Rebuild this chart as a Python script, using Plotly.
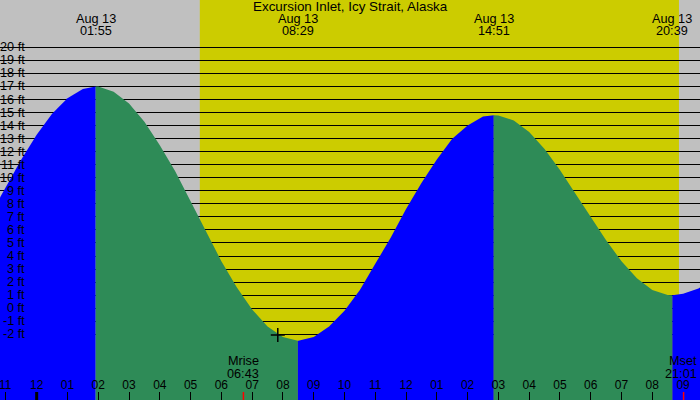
import plotly.graph_objects as go

# Tide heights (ft), Aug 12 evening to Aug 13 night
tide_times = [
    "2024-08-12 22:30", "2024-08-12 23:00", "2024-08-12 23:30",
    "2024-08-13 00:00", "2024-08-13 00:30", "2024-08-13 01:00", "2024-08-13 01:30",
    "2024-08-13 01:55", "2024-08-13 02:00", "2024-08-13 02:30", "2024-08-13 03:00",
    "2024-08-13 03:30", "2024-08-13 04:00", "2024-08-13 04:30", "2024-08-13 05:00",
    "2024-08-13 05:30", "2024-08-13 06:00", "2024-08-13 06:30", "2024-08-13 07:00",
    "2024-08-13 07:30", "2024-08-13 08:00", "2024-08-13 08:29", "2024-08-13 08:30",
    "2024-08-13 09:00", "2024-08-13 09:30", "2024-08-13 10:00", "2024-08-13 10:30",
    "2024-08-13 11:00", "2024-08-13 11:30", "2024-08-13 12:00", "2024-08-13 12:30",
    "2024-08-13 13:00", "2024-08-13 13:30", "2024-08-13 14:00", "2024-08-13 14:30",
    "2024-08-13 14:51", "2024-08-13 15:00", "2024-08-13 15:30", "2024-08-13 16:00",
    "2024-08-13 16:30", "2024-08-13 17:00", "2024-08-13 17:30", "2024-08-13 18:00",
    "2024-08-13 18:30", "2024-08-13 19:00", "2024-08-13 19:30", "2024-08-13 20:00",
    "2024-08-13 20:30", "2024-08-13 20:39", "2024-08-13 21:00", "2024-08-13 21:30",
    "2024-08-13 22:00",
]
tide_ft = [
    7.2, 9.3, 11.4,
    13.3, 14.9, 16.1, 16.8,
    17.0, 16.99, 16.6, 15.7,
    14.3, 12.5, 10.5, 8.2,
    5.9, 3.6, 1.6, -0.1,
    -1.4, -2.2, -2.5, -2.5,
    -2.2, -1.4, -0.2, 1.4,
    3.4, 5.4, 7.6, 9.6,
    11.4, 13.0, 14.0, 14.7,
    14.8, 14.78, 14.4, 13.5,
    12.2, 10.6, 8.8, 7.0,
    5.2, 3.6, 2.3, 1.4,
    1.02, 1.0, 1.1, 1.5,
    2.3,
]

# high / low tides labelled at the top
extreme_times = ["2024-08-13 01:55", "2024-08-13 08:29", "2024-08-13 14:51", "2024-08-13 20:39"]
extreme_labels = ["01:55", "08:29", "14:51", "20:39"]
extreme_date = "Aug 13"

sunrise = "2024-08-13 05:18"
sunset = "2024-08-13 20:52"
moonrise = "2024-08-13 06:43"
moonset = "2024-08-13 21:01"
now_time = "2024-08-13 07:50"
now_ft = -2.05

x_range = ["2024-08-12 22:48:30", "2024-08-13 21:33"]
y_range = [-7.04, 23.63]
ft_ticks = list(range(-2, 21))
first_hour = "2024-08-12 23:00"  # its label hangs off the left edge

FONT = dict(family="Liberation Sans, Arial, sans-serif", size=12, color="black")
GREY = "#C0C0C0"
DAY = "#CCCC00"
RISE = "#0000FF"
FALL = "#2E8B57"

fig = go.Figure()

# split the curve at each high/low and fill it down to the bottom
cuts = [0] + [tide_times.index(t) for t in extreme_times] + [len(tide_times) - 1]
for a, b in zip(cuts[:-1], cuts[1:]):
    xs = tide_times[a:b + 1]
    ys = tide_ft[a:b + 1]
    color = RISE if ys[-1] > ys[0] else FALL
    fig.add_trace(go.Scatter(
        x=xs + [xs[-1], xs[0]], y=ys + [y_range[0], y_range[0]],
        fill="toself", fillcolor=color, mode="lines", line=dict(width=0),
        hoverinfo="skip", showlegend=False))

fig.add_trace(go.Scatter(
    x=[now_time], y=[now_ft], mode="markers",
    marker=dict(symbol="cross-thin", size=10, line=dict(width=1.5, color="black")),
    hoverinfo="skip", showlegend=False))

# daylight band, and grey covers where there is no grid
fig.add_shape(type="rect", xref="x", yref="paper", x0=sunrise, x1=sunset, y0=0, y1=1,
              fillcolor=DAY, line_width=0, layer="below")
fig.add_shape(type="rect", xref="x", yref="paper", x0=sunset, x1=x_range[1], y0=0, y1=1,
              fillcolor=GREY, line_width=0, layer="between")
fig.add_shape(type="rect", xref="paper", yref="paper", x0=0, x1=29 / 700, y0=0, y1=1,
              fillcolor=GREY, line_width=0, layer="between")

# midnight tick is heavier, moon ticks in red
fig.add_shape(type="line", xref="x", yref="paper", x0="2024-08-13 00:00", x1="2024-08-13 00:00",
              y0=0, y1=0.02, line=dict(color="black", width=3))
for t in [moonrise, moonset]:
    fig.add_shape(type="line", xref="x", yref="paper", x0=t, x1=t, y0=0, y1=0.02,
                  line=dict(color="red", width=1.5))

TOP = dict(size=12.7)
annotations = [dict(text="Excursion Inlet, Icy Strait, Alaska", xref="paper", yref="paper",
                    x=0.5, y=1 - 7 / 400, yanchor="middle", showarrow=False,
                    font=dict(size=13.4))]
for t, lab in zip(extreme_times, extreme_labels):
    annotations.append(dict(text=extreme_date, x=t, yref="paper", y=1 - 19 / 400,
                            yanchor="middle", showarrow=False, font=TOP))
    annotations.append(dict(text=lab, x=t, yref="paper", y=1 - 31 / 400,
                            yanchor="middle", showarrow=False, font=TOP))
annotations.append(dict(text="Mrise", x=moonrise, yref="paper", y=1 - 361 / 400,
                        yanchor="middle", showarrow=False, font=TOP))
annotations.append(dict(text="06:43", x=moonrise, yref="paper", y=1 - 374 / 400,
                        yanchor="middle", showarrow=False, font=TOP))
annotations.append(dict(text="Mset", xref="paper", x=0.998, xanchor="right", yref="paper",
                        y=1 - 361 / 400, yanchor="middle", showarrow=False, font=TOP))
annotations.append(dict(text="21:01", xref="paper", x=0.998, xanchor="right", yref="paper",
                        y=1 - 374 / 400, yanchor="middle", showarrow=False, font=TOP))
annotations.append(dict(text="11", x=first_hour, yref="paper", y=1 - 385 / 400,
                        yanchor="middle", showarrow=False))
for v in ft_ticks:
    annotations.append(dict(text=f"{v} ft", xref="paper", x=27 / 700, xanchor="right",
                            y=v, yanchor="middle", showarrow=False, font=TOP))

fig.update_layout(
    width=700, height=400,
    margin=dict(l=0, r=0, t=0, b=0),
    paper_bgcolor=GREY, plot_bgcolor=GREY,
    font=FONT,
    annotations=annotations,
    xaxis=dict(type="date", range=x_range, dtick=3600000, tick0="2024-08-13 00:00",
               tickformat="%I", ticks="inside", ticklen=8, tickcolor="black",
               tickfont=dict(color="black", size=12), layer="above traces",
               ticklabelposition="inside", showgrid=False, zeroline=False,
               showline=False, fixedrange=True),
    yaxis=dict(range=y_range, tickvals=ft_ticks, showticklabels=False,
               showgrid=True, gridcolor="black", gridwidth=1, zeroline=False,
               showline=False, fixedrange=True),
)

fig.write_html("out.html", config={"displayModeBar": False},
               post_script="document.body.style.margin='0';document.body.style.overflow='hidden';")
